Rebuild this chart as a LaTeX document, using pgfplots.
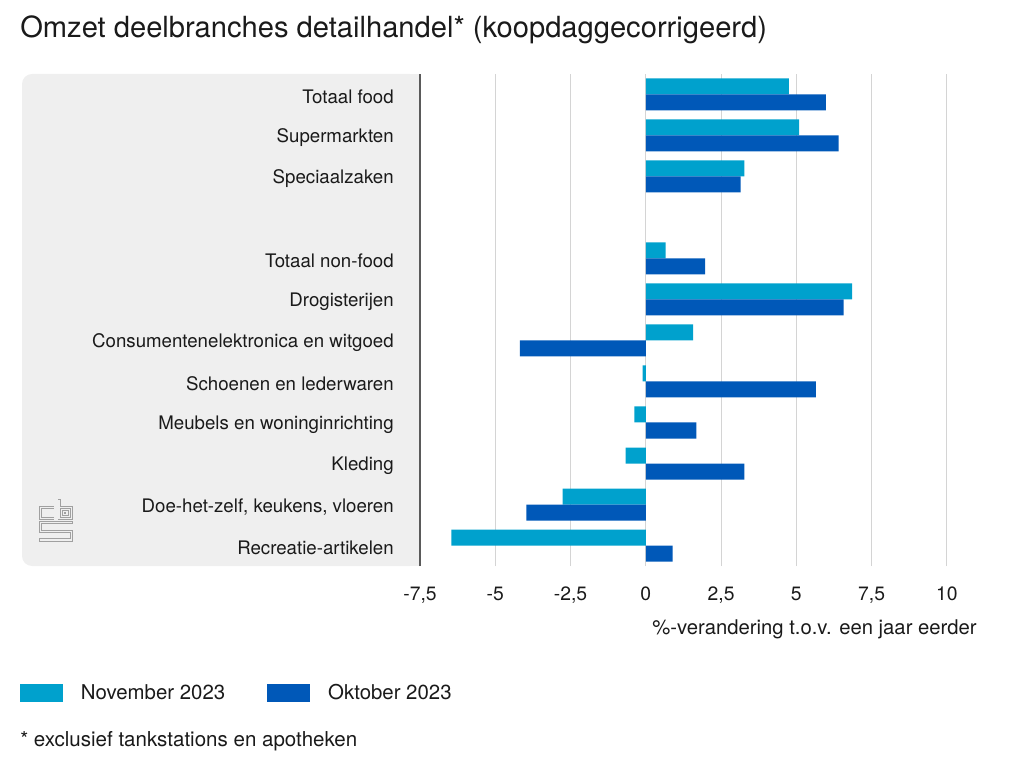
\documentclass[border=0pt]{standalone}
\usepackage{fontspec}
\setmainfont{TeX Gyre Heros}
\usepackage{pgfplots}
\pgfplotsset{compat=1.18}
\definecolor{nov}{HTML}{00A1CD}
\definecolor{okt}{HTML}{0058B8}
\definecolor{panel}{HTML}{EFEFEF}
\definecolor{gridc}{HTML}{D4D4D4}
\definecolor{axisc}{HTML}{5A5A5A}
\definecolor{logoc}{HTML}{A0A0A0}
\definecolor{txt}{HTML}{1A1A1A}

\pgfplotstableread{
y    nov    okt
11   4.75   5.98
10   5.09   6.40
9    3.27   3.15
7    0.66   1.97
6    6.85   6.57
5    1.57  -4.18
4   -0.11   5.65
3   -0.38   1.68
2   -0.67   3.27
1   -2.76  -3.97
0   -6.46   0.89
}\datatable

\begin{document}
\begin{tikzpicture}
\path[use as bounding box] (0,0) rectangle (768pt,576pt);
% grey panel
\fill[panel, rounded corners=7.5pt] (16.5pt,151.5pt) rectangle (315pt,520.5pt);
\fill[panel] (100pt,151.5pt) rectangle (315pt,520.5pt);
% title
\node[anchor=west, inner sep=0pt, text=txt, font=\fontsize{21.85}{25}\selectfont] at (15pt,553.5pt) {Omzet deelbranches detailhandel* (koopdaggecorrigeerd)};
% logo (outlined strokes)
\begin{scope}[shift={(30.5pt,171pt)}, x=2.3pt, y=2.3pt, line join=miter]
  \foreach \w/\c in {2.3pt/logoc, 0.9pt/panel}{
    \draw[\c, line width=\w, line cap=rect] (4,10.5) -- (0,10.5) -- (0,7) -- (4,7);
    \draw[\c, line width=\w, line cap=rect] (6,13) -- (6,7) -- (10,7) -- (10,10.5) -- (6,10.5);
    \draw[\c, line width=\w] (7.5,8.3) rectangle (8.6,9.3);
    \draw[\c, line width=\w, line cap=rect] (10,5.8) -- (0,5.8) -- (0,2.9) -- (10,2.9) -- (10,0) -- (0,0);
  }
\end{scope}
\begin{axis}[
  at={(315pt,151.5pt)}, anchor=south west,
  scale only axis, width=417.75pt, height=369pt,
  xmin=-7.5, xmax=11, ymin=-0.5, ymax=11.5,
  xbar, bar width=12pt,
  xtick={-7.5,-5,-2.5,0,2.5,5,7.5,10},
  xticklabels={{-7,5},{-5},{-2,5},{0},{2,5},{5},{7,5},{10}},
  ytick={11,10,9,7,6,5,4,3,2,1,0},
  yticklabels={Totaal food,Supermarkten,Speciaalzaken,Totaal non-food,Drogisterijen,Consumentenelektronica en witgoed,Schoenen en lederwaren,Meubels en woninginrichting,Kleding,{Doe-het-zelf, keukens, vloeren},Recreatie-artikelen},
  xmajorgrids, grid style={gridc, line width=0.75pt},
  axis x line*=bottom, axis y line*=left,
  x axis line style={draw=none},
  y axis line style={draw=axisc, line width=1pt, -},
  major tick length=0pt, tick style={draw=none},
  ticklabel style={text=txt, inner sep=0pt},
  yticklabel style={anchor=east, xshift=-19.5pt, yshift=-1.8pt, font=\fontsize{14}{16}\selectfont},
  xticklabel style={anchor=north, yshift=-15.5pt, font=\fontsize{14.5}{16}\selectfont},
  xlabel={\%-verandering t.o.v. een jaar eerder},
  xlabel style={at={(axis description cs:1,0)}, anchor=east, yshift=-47.25pt, inner sep=0pt, text=txt, font=\fontsize{15.2}{17}\selectfont},
  legend columns=2,
  legend cell align=left,
  legend image code/.code={\fill[#1, draw=none] (0pt,-6.75pt) rectangle (32.25pt,6.75pt);},
  legend style={at={(axis description cs:-0.7188,-0.2581)}, anchor=west, draw=none, fill=none, inner sep=0pt, text=txt,
    font=\fontsize{15.3}{17}\selectfont,
    nodes={inner sep=0pt},
    /tikz/every odd column/.append style={column sep=13.5pt},
    /tikz/every even column/.append style={column sep=31.5pt}},
]
\addplot[fill=nov, draw=none, bar shift=6pt] table[x=nov, y=y] {\datatable};
\addlegendentry{November 2023}
\addplot[fill=okt, draw=none, bar shift=-6pt] table[x=okt, y=y] {\datatable};
\addlegendentry{Oktober 2023}
\end{axis}
% footnote
\node[anchor=west, inner sep=0pt, text=txt, font=\fontsize{15.4}{17}\selectfont] at (15pt,20.25pt) {* exclusief tankstations en apotheken};
\end{tikzpicture}
\end{document}
